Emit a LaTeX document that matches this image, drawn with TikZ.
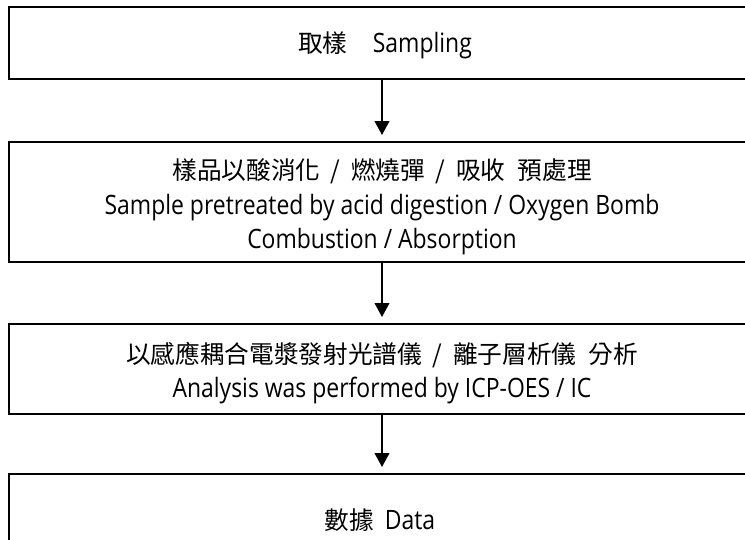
\documentclass[tikz,border=0pt]{standalone}
\usepackage{fontspec}
\usepackage{graphicx}
\setmainfont{Open Sans}
\newfontfamily\cjk{Noto Sans CJK TC}
\newcommand{\en}[1]{\scalebox{0.86}[1]{\fontsize{20}{26}\selectfont #1}}
\newcommand{\zh}[1]{{\cjk\fontsize{18.5}{26}\selectfont #1}}
\newcommand{\sep}{\hspace{8pt}/\hspace{8pt}}
\usetikzlibrary{arrows.meta}
\tikzset{
  stepbox/.style={draw=black, line width=1.5pt, rectangle, minimum width=559.5pt, inner sep=0pt},
  steptext/.style={align=center, inner sep=0pt, font=\fontsize{18}{26}\selectfont},
  flow/.style={draw=black, line width=1.5pt, -{Triangle[length=10.5pt,width=11pt]}, shorten >=4.5pt}
}
\begin{document}
\begin{tikzpicture}[x=0.75pt,y=-0.75pt]
\useasboundingbox (0,0) rectangle (745,539);
\clip (0,0) rectangle (745,539);
\fill[white] (0,0) rectangle (745,539);
\node[stepbox, minimum height=54pt] (b1) at (382,43) {};
\node[stepbox, minimum height=90pt] (b2) at (382,202) {};
\node[stepbox, minimum height=67.5pt] (b3) at (382,369) {};
\node[stepbox, minimum height=67.5pt] (b4) at (382,519) {};
\node[steptext] (t1) at (385,45) {\zh{取樣}\hspace{19pt}\en{Sampling}};
\node[steptext] (t2) at (382,207) {\zh{樣品以酸消化\sep 燃燒彈\sep 吸收\hspace{9pt}預處理}\\\en{Sample pretreated by acid digestion / Oxygen Bomb}\\\en{Combustion / Absorption}};
\node[steptext] (t3) at (382,373) {\zh{以感應耦合電漿發射光譜儀\sep 離子層析儀\hspace{9pt}分析}\\\en{Analysis was performed by ICP-OES / IC}};
\node[steptext] (t4) at (380,520) {\zh{數據}\hspace{8pt}\en{Data}};
\draw[flow] (b1) -- (b2);
\draw[flow] (b2) -- (b3);
\draw[flow] (b3) -- (b4);
\end{tikzpicture}
\end{document}
